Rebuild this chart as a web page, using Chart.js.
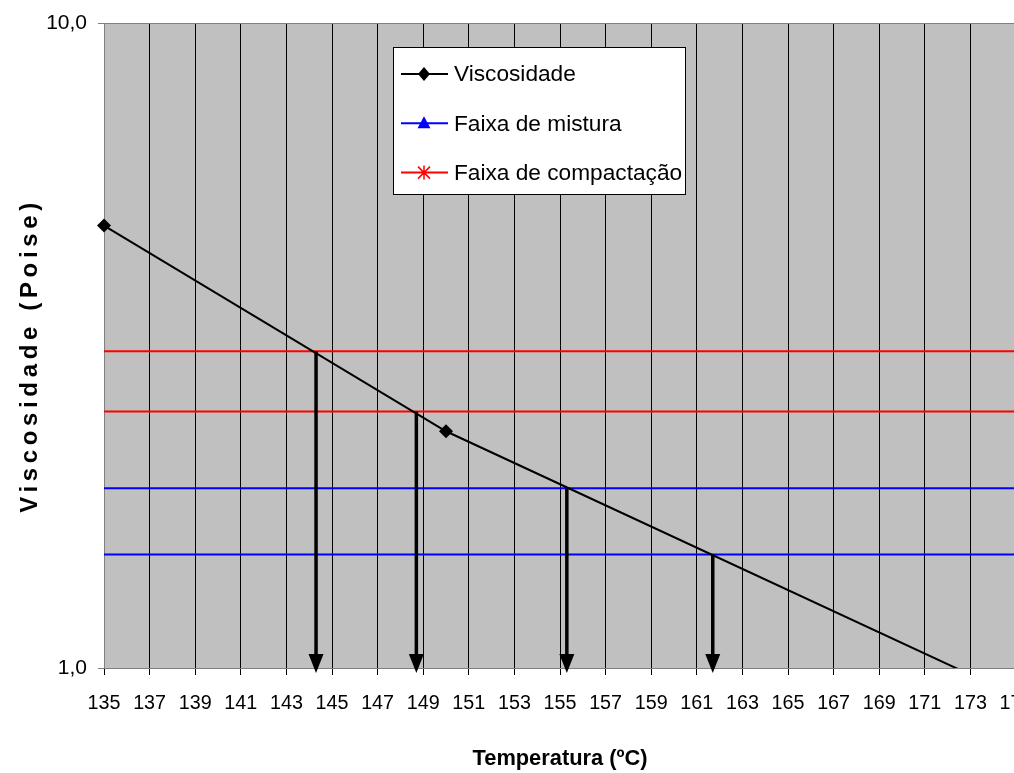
<!DOCTYPE html>
<html lang="pt">
<head>
<meta charset="utf-8">
<title>Viscosidade x Temperatura</title>
<script src="https://cdn.jsdelivr.net/npm/chart.js@4.4.1/dist/chart.umd.min.js"></script>
<style>
  html, body { margin: 0; padding: 0; background: #fff; overflow: hidden; }
  #caixa { position: relative; width: 1052px; height: 773px; }
</style>
</head>
<body>
<div id="caixa"><canvas id="grafico-viscosidade"></canvas></div>
<script>
// Dados
const temperaturas = [135, 150, 175];
const viscosidades = [4.86, 2.33, 0.905];
const faixaMistura = [1.5, 1.9];
const faixaCompactacao = [2.5, 3.1];
const rotulosX = [135, 137, 139, 141, 143, 145, 147, 149, 151, 153, 155,
                  157, 159, 161, 163, 165, 167, 169, 171, 173, 175];
const rotulosY = [1, 10];
// Setas: temperatura onde a viscosidade cruza cada limite das faixas
const setasTemperatura = [144.3, 148.7, 155.3, 161.7];
const setasViscosidade = [3.1, 2.5, 1.9, 1.5];

// Verifica se a fonte estreita existe
function fonteDisponivel(nome) {
    const c = document.createElement('canvas').getContext('2d');
    const amostra = 'Viscosidade 0123456789';
    c.font = '40px monospace';
    const base = c.measureText(amostra).width;
    c.font = '40px "' + nome + '", monospace';
    return c.measureText(amostra).width !== base;
}
const estreita = fonteDisponivel('Liberation Sans Narrow');
const familia = estreita
    ? '"Liberation Sans Narrow", "Liberation Sans", Arial, sans-serif'
    : '"Liberation Sans", Arial, sans-serif';
const escala = estreita ? 1 : 0.84;
Chart.defaults.font.family = familia;

function linhaHorizontal(valor) {
    return [{ x: rotulosX[0], y: valor }, { x: rotulosX[rotulosX.length - 1], y: valor }];
}

// Fundo cinza da área do gráfico
const fundoArea = {
    id: 'fundoArea',
    beforeDraw(chart) {
        const { ctx, chartArea: a } = chart;
        ctx.save();
        ctx.fillStyle = '#C0C0C0';
        ctx.fillRect(a.left, a.top, a.right - a.left, a.bottom - a.top);
        ctx.restore();
    }
};

// Setas verticais até o eixo das temperaturas
const setas = {
    id: 'setas',
    afterDatasetsDraw(chart) {
        const { ctx, scales } = chart;
        const base = scales.y.bottom;
        ctx.save();
        ctx.strokeStyle = '#000';
        ctx.fillStyle = '#000';
        ctx.lineWidth = 3.5;
        setasTemperatura.forEach((t, i) => {
            const x = scales.x.getPixelForValue(t);
            const topo = scales.y.getPixelForValue(setasViscosidade[i]);
            ctx.beginPath();
            ctx.moveTo(x, topo);
            ctx.lineTo(x, base - 12);
            ctx.stroke();
            ctx.beginPath();
            ctx.moveTo(x - 7.5, base - 14);
            ctx.lineTo(x + 7.5, base - 14);
            ctx.lineTo(x, base + 5);
            ctx.closePath();
            ctx.fill();
        });
        ctx.restore();
    }
};

function desenharMarcador(ctx, tipo, x, y, cor) {
    ctx.fillStyle = cor;
    ctx.strokeStyle = cor;
    ctx.beginPath();
    if (tipo === 'losango') {
        ctx.moveTo(x, y - 7);
        ctx.lineTo(x + 6, y);
        ctx.lineTo(x, y + 7);
        ctx.lineTo(x - 6, y);
        ctx.closePath();
        ctx.fill();
    } else if (tipo === 'triangulo') {
        ctx.moveTo(x, y - 7);
        ctx.lineTo(x + 6.5, y + 5);
        ctx.lineTo(x - 6.5, y + 5);
        ctx.closePath();
        ctx.fill();
    } else {
        ctx.lineWidth = 1.5;
        ctx.moveTo(x, y - 7); ctx.lineTo(x, y + 7);
        ctx.moveTo(x - 6, y - 6); ctx.lineTo(x + 6, y + 6);
        ctx.moveTo(x + 6, y - 6); ctx.lineTo(x - 6, y + 6);
        ctx.stroke();
    }
}

// Legenda dentro da área do gráfico
const legendaInterna = {
    id: 'legendaInterna',
    afterDraw(chart) {
        const ctx = chart.ctx;
        const ds = chart.data.datasets;
        const itens = [
            { texto: ds[0].label, cor: ds[0].borderColor, tipo: 'losango' },
            { texto: ds[1].label, cor: ds[1].borderColor, tipo: 'triangulo' },
            { texto: ds[3].label, cor: ds[3].borderColor, tipo: 'asterisco' }
        ];
        ctx.save();
        ctx.fillStyle = '#fff';
        ctx.fillRect(393, 47, 292, 147);
        ctx.strokeStyle = '#000';
        ctx.lineWidth = 1;
        ctx.strokeRect(393.5, 47.5, 292, 147);
        itens.forEach((item, i) => {
            const y = 74 + i * 49.3;
            ctx.strokeStyle = item.cor;
            ctx.lineWidth = 2;
            ctx.beginPath();
            ctx.moveTo(401, y);
            ctx.lineTo(448, y);
            ctx.stroke();
            desenharMarcador(ctx, item.tipo, 424, y, item.cor);
            ctx.fillStyle = '#000';
            ctx.font = (27 * escala) + 'px ' + familia;
            ctx.textAlign = 'left';
            ctx.textBaseline = 'middle';
            ctx.fillText(item.texto, 454, y + 1);
        });
        ctx.restore();
    }
};

// Título do eixo Y com letras espaçadas
const tituloY = {
    id: 'tituloY',
    afterDraw(chart) {
        const { ctx, chartArea: a } = chart;
        const texto = 'Viscosidade (Poise)';
        ctx.save();
        ctx.font = 'bold 24px "Liberation Sans", Arial, sans-serif';
        const natural = ctx.measureText(texto).width;
        const espaco = (310 - natural) / (texto.length - 1);
        ctx.letterSpacing = espaco + 'px';
        ctx.translate(30, (a.top + a.bottom) / 2 + 12);
        ctx.rotate(-Math.PI / 2);
        ctx.textAlign = 'center';
        ctx.textBaseline = 'middle';
        ctx.fillStyle = '#000';
        ctx.fillText(texto, espaco / 2, 0);
        ctx.restore();
    }
};

const ctx = document.getElementById('grafico-viscosidade').getContext('2d');
new Chart(ctx, {
    type: 'line',
    data: {
        datasets: [
            {
                label: 'Viscosidade',
                data: temperaturas.map((t, i) => ({ x: t, y: viscosidades[i] })),
                borderColor: '#000000',
                backgroundColor: '#000000',
                borderWidth: 2,
                pointStyle: 'rectRot',
                pointRadius: 7,
                pointBorderWidth: 0,
                clip: { left: 10, top: 0, right: 0, bottom: 0 }
            },
            {
                label: 'Faixa de mistura',
                data: linhaHorizontal(faixaMistura[0]),
                borderColor: '#0000FF', borderWidth: 2, pointRadius: 0
            },
            {
                label: 'Faixa de mistura',
                data: linhaHorizontal(faixaMistura[1]),
                borderColor: '#0000FF', borderWidth: 2, pointRadius: 0
            },
            {
                label: 'Faixa de compactação',
                data: linhaHorizontal(faixaCompactacao[0]),
                borderColor: '#FF0000', borderWidth: 2, pointRadius: 0
            },
            {
                label: 'Faixa de compactação',
                data: linhaHorizontal(faixaCompactacao[1]),
                borderColor: '#FF0000', borderWidth: 2, pointRadius: 0
            }
        ]
    },
    options: {
        responsive: true,
        maintainAspectRatio: false,
        animation: false,
        layout: { padding: { left: 0, top: 23, right: 36, bottom: 0 } },
        scales: {
            x: {
                type: 'linear',
                min: rotulosX[0],
                max: rotulosX[rotulosX.length - 1],
                afterBuildTicks: s => { s.ticks = rotulosX.map(v => ({ value: v })); },
                afterFit: s => { s.height = 105; },
                grid: { color: '#000', lineWidth: 1, tickLength: 7 },
                border: { color: '#808080', width: 1 },
                ticks: {
                    color: '#000',
                    font: { size: 23.5 * escala },
                    padding: 17,
                    maxRotation: 0,
                    autoSkip: false,
                    callback: v => String(v)
                },
                title: {
                    display: true,
                    text: 'Temperatura (ºC)',
                    color: '#000',
                    font: { size: 26 * escala, weight: 'bold', lineHeight: 1.2 },
                    padding: { top: 0, bottom: 1 }
                }
            },
            y: {
                type: 'logarithmic',
                min: rotulosY[0],
                max: rotulosY[rotulosY.length - 1],
                afterBuildTicks: s => { s.ticks = rotulosY.map(v => ({ value: v })); },
                afterFit: s => { s.width = 104; },
                grid: { color: '#808080', lineWidth: 1, tickLength: 6 },
                border: { color: '#808080', width: 1 },
                ticks: {
                    color: '#000',
                    font: { size: 25 * escala },
                    padding: 11,
                    callback: v => Number(v).toFixed(1).replace('.', ',')
                }
            }
        },
        plugins: {
            legend: { display: false },
            tooltip: { enabled: false }
        }
    },
    plugins: [fundoArea, setas, legendaInterna, tituloY]
});
</script>
</body>
</html>
